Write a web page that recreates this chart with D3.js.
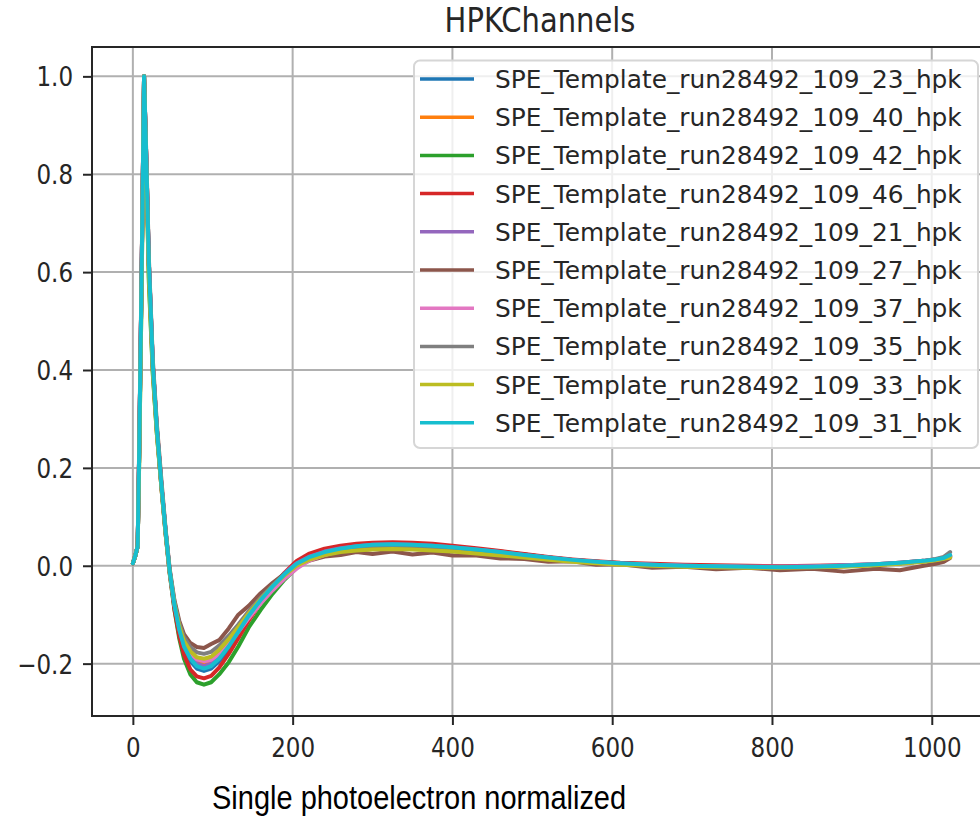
<!DOCTYPE html>
<html lang="en">
<head>
    <meta charset="UTF-8">
    <title>HPKChannels</title>
    <script src="https://cdnjs.cloudflare.com/ajax/libs/d3/7.8.5/d3.min.js"></script>
    <style>
        body { margin: 0; background: #fff; }
        svg { display: block; }
        .grid line { stroke: #b0b0b0; stroke-width: 2px; }
        .axis path, .axis line { stroke: #262626; stroke-width: 2px; }
        .axis text { font-family: "DejaVu Sans", sans-serif; font-size: 23px; fill: #262626; }
        .series { fill: none; stroke-width: 4px; stroke-linejoin: round; stroke-linecap: round; }
        .title { font-family: "DejaVu Sans", sans-serif; font-size: 29px; fill: #262626; }
        .legend-text { font-family: "DejaVu Sans", sans-serif; font-size: 24.8px; fill: #262626; }
        .caption { font-family: "Liberation Sans", Arial, sans-serif; font-size: 29px; fill: #000; }
    </style>
</head>
<body>
<svg id="chart" width="980" height="818"></svg>
<script>
    // sample index of each read-off point (shared by all channels)
    const samples = [0, 3, 6, 8, 11, 14, 17, 20, 25, 30,
        36, 41, 46, 52, 58, 64, 72, 80, 89, 98,
        108, 120, 132, 145, 160, 175, 190, 205, 220, 240,
        260, 280, 300, 325, 350, 375, 400, 430, 460, 490,
        520, 550, 580, 610, 650, 690, 730, 770, 810, 850,
        890, 930, 960, 990, 1005, 1015, 1023];

    const ch23 = [0.005, 0.02, 0.04, 0.24, 0.60, 1.00, 0.82, 0.62, 0.41, 0.28,
        0.16, 0.07, -0.01, -0.082, -0.133, -0.169, -0.195, -0.21, -0.215, -0.21,
        -0.195, -0.17, -0.14, -0.106, -0.073, -0.044, -0.018, 0.003, 0.017, 0.029,
        0.036, 0.041, 0.044, 0.045, 0.044, 0.042, 0.039, 0.034, 0.028, 0.023,
        0.017, 0.012, 0.008, 0.005, 0.002, 0.0, -0.001, -0.002, -0.002, -0.002,
        0.0, 0.002, 0.005, 0.009, 0.012, 0.015, 0.020];
    const ch40 = [0.005, 0.02, 0.04, 0.24, 0.60, 1.00, 0.82, 0.62, 0.41, 0.28,
        0.16, 0.07, -0.01, -0.078, -0.126, -0.158, -0.182, -0.196, -0.200, -0.195,
        -0.180, -0.157, -0.130, -0.100, -0.069, -0.041, -0.016, 0.004, 0.017, 0.028,
        0.035, 0.039, 0.042, 0.043, 0.042, 0.040, 0.037, 0.032, 0.027, 0.022,
        0.016, 0.011, 0.007, 0.004, 0.002, 0.0, -0.002, -0.003, -0.003, -0.002,
        0.0, 0.002, 0.005, 0.009, 0.012, 0.015, 0.018];
    const ch42 = [0.005, 0.02, 0.04, 0.22, 0.57, 1.00, 0.80, 0.58, 0.39, 0.27,
        0.155, 0.065, -0.015, -0.090, -0.148, -0.190, -0.222, -0.238, -0.243, -0.238,
        -0.222, -0.197, -0.165, -0.126, -0.090, -0.057, -0.028, -0.004, 0.012, 0.026,
        0.035, 0.041, 0.044, 0.045, 0.044, 0.042, 0.039, 0.034, 0.029, 0.023,
        0.017, 0.012, 0.008, 0.005, 0.002, 0.0, -0.001, -0.002, -0.002, -0.002,
        0.0, 0.002, 0.005, 0.009, 0.012, 0.015, 0.019];
    const ch46 = [0.005, 0.02, 0.04, 0.24, 0.60, 1.00, 0.82, 0.61, 0.40, 0.275,
        0.155, 0.065, -0.014, -0.088, -0.143, -0.182, -0.212, -0.226, -0.230, -0.225,
        -0.208, -0.180, -0.148, -0.112, -0.075, -0.042, -0.014, 0.010, 0.024, 0.035,
        0.041, 0.045, 0.047, 0.048, 0.047, 0.045, 0.041, 0.036, 0.030, 0.024,
        0.018, 0.013, 0.009, 0.006, 0.004, 0.002, 0.001, 0.0, -0.001, 0.0,
        0.001, 0.003, 0.006, 0.010, 0.013, 0.016, 0.020];
    const ch21 = [0.005, 0.02, 0.04, 0.24, 0.60, 1.00, 0.82, 0.62, 0.41, 0.28,
        0.16, 0.07, -0.01, -0.080, -0.128, -0.162, -0.186, -0.200, -0.205, -0.200,
        -0.185, -0.160, -0.132, -0.100, -0.068, -0.040, -0.015, 0.005, 0.018, 0.029,
        0.036, 0.040, 0.043, 0.044, 0.043, 0.041, 0.038, 0.033, 0.028, 0.022,
        0.017, 0.012, 0.008, 0.005, 0.002, 0.0, -0.001, -0.002, -0.002, -0.001,
        0.001, 0.003, 0.006, 0.010, 0.013, 0.016, 0.021];
    const ch27 = [0.005, 0.02, 0.04, 0.25, 0.61, 1.00, 0.83, 0.63, 0.42, 0.29,
        0.17, 0.075, -0.005, -0.070, -0.112, -0.140, -0.158, -0.166, -0.168, -0.160,
        -0.152, -0.128, -0.100, -0.082, -0.056, -0.035, -0.016, -0.002, 0.010, 0.019,
        0.022, 0.028, 0.024, 0.029, 0.023, 0.027, 0.021, 0.021, 0.015, 0.014,
        0.008, 0.009, 0.002, 0.003, -0.004, -0.002, -0.007, -0.004, -0.009, -0.006,
        -0.012, -0.006, -0.009, 0.000, 0.004, 0.008, 0.016];
    const ch37 = [0.005, 0.02, 0.04, 0.24, 0.60, 1.00, 0.82, 0.62, 0.41, 0.28,
        0.16, 0.07, -0.01, -0.078, -0.124, -0.156, -0.179, -0.191, -0.195, -0.192,
        -0.180, -0.160, -0.135, -0.107, -0.077, -0.050, -0.026, -0.006, 0.010, 0.022,
        0.031, 0.036, 0.039, 0.041, 0.040, 0.038, 0.035, 0.031, 0.026, 0.021,
        0.016, 0.011, 0.007, 0.004, 0.002, 0.0, -0.001, -0.002, -0.002, -0.002,
        0.0, 0.002, 0.005, 0.009, 0.012, 0.015, 0.018];
    const ch35 = [0.005, 0.02, 0.04, 0.24, 0.60, 1.00, 0.82, 0.62, 0.41, 0.28,
        0.16, 0.07, -0.008, -0.074, -0.117, -0.146, -0.166, -0.177, -0.180, -0.176,
        -0.163, -0.143, -0.120, -0.093, -0.065, -0.040, -0.017, 0.002, 0.014, 0.024,
        0.031, 0.035, 0.037, 0.038, 0.037, 0.035, 0.032, 0.028, 0.024, 0.019,
        0.014, 0.010, 0.006, 0.003, 0.001, -0.001, -0.002, -0.003, -0.003, -0.003,
        -0.001, 0.002, 0.005, 0.010, 0.014, 0.018, 0.028];
    const ch33 = [0.005, 0.02, 0.04, 0.22, 0.57, 1.00, 0.80, 0.59, 0.395, 0.27,
        0.155, 0.066, -0.012, -0.078, -0.123, -0.154, -0.175, -0.187, -0.190, -0.186,
        -0.172, -0.150, -0.125, -0.097, -0.068, -0.042, -0.019, 0.0, 0.012, 0.022,
        0.028, 0.031, 0.033, 0.034, 0.033, 0.031, 0.029, 0.025, 0.021, 0.017,
        0.012, 0.008, 0.005, 0.002, 0.0, -0.002, -0.003, -0.004, -0.004, -0.003,
        -0.002, 0.001, 0.004, 0.008, 0.011, 0.014, 0.017];
    const ch31 = [0.005, 0.02, 0.04, 0.24, 0.60, 1.00, 0.82, 0.62, 0.41, 0.28,
        0.16, 0.07, -0.01, -0.08, -0.13, -0.165, -0.19, -0.205, -0.21, -0.205,
        -0.19, -0.165, -0.135, -0.102, -0.07, -0.042, -0.017, 0.004, 0.017, 0.028,
        0.035, 0.04, 0.043, 0.044, 0.043, 0.041, 0.038, 0.033, 0.028, 0.022,
        0.017, 0.012, 0.008, 0.005, 0.002, 0.0, -0.001, -0.002, -0.003, -0.002,
        0.0, 0.003, 0.006, 0.010, 0.013, 0.016, 0.022];

    const seriesNames = [
        "SPE_Template_run28492_109_23_hpk",
        "SPE_Template_run28492_109_40_hpk",
        "SPE_Template_run28492_109_42_hpk",
        "SPE_Template_run28492_109_46_hpk",
        "SPE_Template_run28492_109_21_hpk",
        "SPE_Template_run28492_109_27_hpk",
        "SPE_Template_run28492_109_37_hpk",
        "SPE_Template_run28492_109_35_hpk",
        "SPE_Template_run28492_109_33_hpk",
        "SPE_Template_run28492_109_31_hpk"
    ];
    const seriesValues = [ch23, ch40, ch42, ch46, ch21, ch27, ch37, ch35, ch33, ch31];
    const seriesColors = ["#1f77b4", "#ff7f0e", "#2ca02c", "#d62728", "#9467bd",
        "#8c564b", "#e377c2", "#7f7f7f", "#bcbd22", "#17becf"];

    const xTicks = [0, 200, 400, 600, 800, 1000];
    const yTicks = [-0.2, 0.0, 0.2, 0.4, 0.6, 0.8, 1.0];

    const svg = d3.select("#chart");
    const plot = { left: 92, right: 991, top: 47, bottom: 716 };
    const stretch = 1.16; // the picture is a bit taller than wide

    const x = d3.scaleLinear().domain([-51.15, 1074.15]).range([plot.left, plot.right]);
    const y = d3.scaleLinear().domain([-0.307, 1.06]).range([plot.bottom, plot.top]);

    svg.append("rect").attr("width", 980).attr("height", 818).attr("fill", "#fff");

    svg.append("defs").append("clipPath").attr("id", "clip")
        .append("rect")
        .attr("x", plot.left).attr("y", plot.top)
        .attr("width", plot.right - plot.left).attr("height", plot.bottom - plot.top);

    // grid
    const grid = svg.append("g").attr("class", "grid");
    grid.selectAll(".gx").data(xTicks).enter().append("line")
        .attr("x1", d => x(d)).attr("x2", d => x(d))
        .attr("y1", plot.top).attr("y2", plot.bottom);
    grid.selectAll(".gy").data(yTicks).enter().append("line")
        .attr("x1", plot.left).attr("x2", plot.right)
        .attr("y1", d => y(d)).attr("y2", d => y(d));

    // channels
    const line = d3.line()
        .x((d, i) => x(samples[i]))
        .y(d => y(d));

    svg.append("g").attr("clip-path", "url(#clip)")
        .selectAll("path")
        .data(seriesValues)
        .enter().append("path")
        .attr("class", "series")
        .attr("stroke", (d, i) => seriesColors[i])
        .attr("d", d => line(d));

    // axes
    const xAxis = svg.append("g").attr("class", "axis")
        .attr("transform", `translate(0,${plot.bottom})`)
        .call(d3.axisBottom(x).tickValues(xTicks).tickSize(9).tickSizeOuter(0).tickFormat(d3.format("d")));
    xAxis.select(".domain").remove();
    xAxis.selectAll("text")
        .attr("y", 41 / stretch).attr("dy", 0)
        .attr("transform", `scale(1,${stretch})`);

    const yAxis = svg.append("g").attr("class", "axis")
        .attr("transform", `translate(${plot.left},0)`)
        .call(d3.axisLeft(y).tickValues(yTicks).tickSize(9).tickSizeOuter(0).tickFormat(d3.format(".1f")));
    yAxis.select(".domain").remove();
    yAxis.selectAll("text")
        .attr("x", -19).attr("y", 9.6 / stretch).attr("dy", 0)
        .attr("transform", `scale(1,${stretch})`);

    // spines
    svg.append("rect")
        .attr("x", plot.left).attr("y", plot.top)
        .attr("width", plot.right - plot.left).attr("height", plot.bottom - plot.top)
        .attr("fill", "none").attr("stroke", "#262626").attr("stroke-width", 2);

    // legend
    const legend = svg.append("g");
    legend.append("rect")
        .attr("x", 414).attr("y", 60.5).attr("width", 564).attr("height", 387.5)
        .attr("rx", 6)
        .attr("fill", "#fff").attr("fill-opacity", 0.8)
        .attr("stroke", "#d6d6d6").attr("stroke-width", 2);
    const rows = legend.selectAll(".row").data(seriesNames).enter().append("g")
        .attr("transform", (d, i) => `translate(0,${79 + i * 38.2})`);
    rows.append("line")
        .attr("x1", 420).attr("x2", 474)
        .attr("stroke", (d, i) => seriesColors[i]).attr("stroke-width", 3.5);
    rows.append("text")
        .attr("class", "legend-text")
        .attr("x", 495).attr("y", 9)
        .text(d => d);

    // title and caption
    svg.append("text").attr("class", "title")
        .attr("text-anchor", "middle")
        .attr("transform", `translate(540,32) scale(1,${stretch})`)
        .text("HPKChannels");

    svg.append("text").attr("class", "caption")
        .attr("transform", `translate(212,809) scale(1,${stretch})`)
        .text("Single photoelectron normalized");
</script>
</body>
</html>
